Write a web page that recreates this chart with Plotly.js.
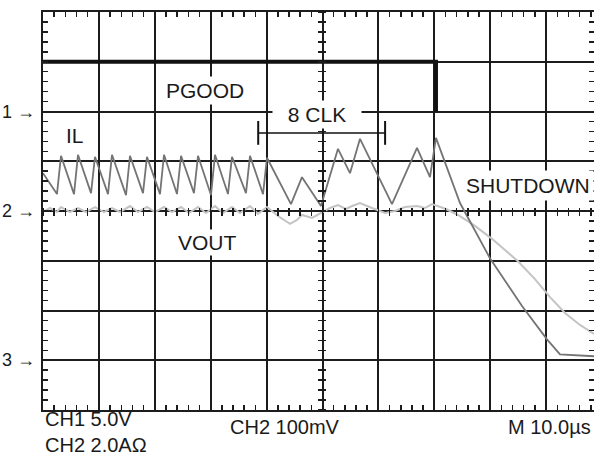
<!DOCTYPE html>
<html>
<head>
<meta charset="utf-8">
<script src="https://cdn.plot.ly/plotly-3.0.1.min.js"></script>
<style>html,body{margin:0;padding:0;background:#fff;}#chart{width:594px;height:457px;}</style>
</head>
<body>
<div id="chart"></div>
<script>
// time in microseconds (10 us/div), amplitude in divisions from screen centre
var ilTime = [0, 2.50, 3.22, 5.55, 6.26, 8.59, 9.30, 11.63, 12.34, 14.85, 15.56, 17.89, 18.60, 20.93, 21.65,
  23.97, 24.69, 27.01, 27.73, 30.05, 30.77, 33.09, 33.81, 36.31, 37.03, 39.36, 40.07,
  44.36, 46.33, 49.73, 52.77, 54.92, 56.71, 62.43, 66.91, 69.23, 70.30,
  74.60, 79.96, 85.69, 90.16, 92.49, 98.57];
var ilDiv = [0.76, 0.34, 1.11, 0.34, 1.13, 0.36, 1.09, 0.34, 1.13, 0.32, 1.11, 0.36, 1.09, 0.34, 1.13,
  0.34, 1.11, 0.36, 1.11, 0.32, 1.13, 0.34, 1.09, 0.36, 1.11, 0.34, 1.07,
  0.14, 0.68, 0.10, 1.25, 0.76, 1.45, 0.14, 1.27, 0.68, 1.47,
  0.16, -0.95, -1.91, -2.58, -2.88, -2.92];

var voutTime = [0, 1.25, 2.50, 3.22, 4.83, 6.26, 7.69, 9.30, 10.91, 12.34, 13.77, 15.56, 16.99, 18.60,
  20.04, 21.65, 23.08, 24.69, 26.12, 27.73, 29.16, 30.77, 32.20, 33.81, 35.24, 37.03, 38.46, 40.07,
  42.04, 44.19, 45.44, 46.33, 48.12, 49.73, 51.34, 52.77, 54.20, 55.28, 56.71, 58.86, 61.18, 62.97,
  64.76, 66.91, 68.34, 69.59, 72.09, 74.24, 77.28, 80.32, 84.97, 88.01, 90.70, 93.38, 96.06, 98.57];
var voutDiv = [-0.02, 0.06, -0.02, 0.08, -0.02, 0.06, -0.02, 0.08, -0.02, 0.06, -0.02, 0.10, -0.02, 0.08,
  -0.02, 0.08, -0.02, 0.08, -0.04, 0.08, -0.04, 0.10, -0.04, 0.08, -0.04, 0.10, -0.06, 0.08,
  -0.10, -0.26, -0.18, -0.08, -0.14, -0.04, 0.06, 0.12, 0.04, 0.10, 0.16, 0.06, -0.04, 0,
  0.08, 0.10, 0.06, 0.14, 0.04, -0.08, -0.30, -0.56, -1.01, -1.37, -1.73, -2.05, -2.29, -2.47];

var pgoodTime = [0, 70.3, 70.3];
var pgoodDiv = [3, 3, 2];

var clkTime = [38.5, 61.2];
var clkDiv = [1.57, 1.57];

var channelMarks = ['1 →', '2 →', '3 →'];
var channelLevels = [2, 0, -3];
var scaleLabels = ['CH1 5.0V', 'CH2 2.0AΩ'];
var footerLabels = ['CH2 100mV', 'M 10.0µs'];

var gridCol = '#1c1c1c';
var font = 'Liberation Sans, Arial, Helvetica, sans-serif';

// VOUT on the main axes, IL on the centre-crosshair x axis, PGOOD & bracket on the centre-crosshair y axis
var traces = [
  {x: voutTime, y: voutDiv, xaxis: 'x', yaxis: 'y', mode: 'lines', line: {color: '#c4c4c4', width: 2}, hoverinfo: 'skip'},
  {x: ilTime, y: ilDiv, xaxis: 'x2', yaxis: 'y', mode: 'lines', line: {color: '#747474', width: 1.8}, hoverinfo: 'skip'},
  {x: pgoodTime, y: pgoodDiv, xaxis: 'x', yaxis: 'y2', mode: 'lines', line: {color: '#111', width: 4}, hoverinfo: 'skip'},
  {x: clkTime, y: clkDiv, xaxis: 'x', yaxis: 'y2', mode: 'lines+markers', line: {color: '#111', width: 1.5},
   marker: {symbol: 'line-ns', size: 17, line: {color: '#111', width: 2}}, hoverinfo: 'skip'}
];

var xr = [0, 98.57];
var yr = [-4, 4];
var plotW = 551, plotH = 398;
var baseAx = {showticklabels: false, zeroline: false, tickcolor: gridCol, tickwidth: 1.5};

var layout = {
  width: 594, height: 457,
  margin: {l: 43, r: 0, t: 12, b: 47, pad: 0},
  paper_bgcolor: '#fff', plot_bgcolor: '#fff',
  showlegend: false,
  font: {family: font, color: '#1a1a1a'},
  xaxis: Object.assign({}, baseAx, {range: xr, dtick: 10, tick0: 0, showgrid: true, gridcolor: gridCol, gridwidth: 2,
    showline: true, linecolor: gridCol, linewidth: 2, mirror: 'ticks', ticks: 'inside', ticklen: 5,
    minor: {dtick: 2, ticks: 'inside', ticklen: 5, tickcolor: gridCol, tickwidth: 1.5, showgrid: false}}),
  yaxis: Object.assign({}, baseAx, {range: yr, dtick: 1, tick0: 0, showgrid: true, gridcolor: gridCol, gridwidth: 2,
    showline: true, linecolor: gridCol, linewidth: 2, mirror: 'ticks', ticks: 'inside', ticklen: 5,
    minor: {dtick: 0.2, ticks: 'inside', ticklen: 5, tickcolor: gridCol, tickwidth: 1.5, showgrid: false}}),
  // crosshair ticks along the horizontal centre line (8 px long, centred on the line)
  xaxis2: Object.assign({}, baseAx, {overlaying: 'x', anchor: 'free', side: 'bottom', position: 0.5 + 4 / plotH,
    range: xr, dtick: 10, tick0: 0, showgrid: false, showline: false, ticks: 'outside', ticklen: 8,
    minor: {dtick: 2, ticks: 'outside', ticklen: 8, tickcolor: gridCol, tickwidth: 1.5}}),
  // crosshair ticks along the vertical centre line
  yaxis2: Object.assign({}, baseAx, {overlaying: 'y', anchor: 'free', side: 'left', position: 50 / xr[1] + 4 / plotW,
    range: yr, dtick: 1, tick0: 0, showgrid: false, showline: false, ticks: 'outside', ticklen: 8,
    minor: {dtick: 0.2, ticks: 'outside', ticklen: 8, tickcolor: gridCol, tickwidth: 1.5}}),
  annotations: []
};

var lblFont = {family: font, size: 21, color: '#1a1a1a'};
var footFont = {family: font, size: 20, color: '#1a1a1a'};
layout.annotations.push(
  {x: 29.0, y: 2.43, xref: 'x', yref: 'y', text: 'PGOOD', showarrow: false, font: lblFont, bgcolor: '#fff', borderpad: 2},
  {x: 49.0, y: 1.93, xref: 'x', yref: 'y', text: '8 CLK', showarrow: false, font: lblFont, bgcolor: '#fff', width: 86, height: 25},
  {x: 5.7, y: 1.51, xref: 'x', yref: 'y', text: 'IL', showarrow: false, font: lblFont},
  {x: 29.5, y: -0.64, xref: 'x', yref: 'y', text: 'VOUT', showarrow: false, font: lblFont, bgcolor: '#fff', borderpad: 1},
  {x: 1, y: 0.52, xref: 'paper', yref: 'y', xanchor: 'right', text: 'SHUTDOWN', showarrow: false, font: lblFont, bgcolor: '#fff', borderpad: 3}
);
channelMarks.forEach(function (t, i) {
  layout.annotations.push({x: -0.011, y: channelLevels[i], xref: 'paper', yref: 'y', xanchor: 'right', yanchor: 'middle',
    text: t, showarrow: false, font: {family: font, size: 18, color: '#1a1a1a'}});
});
// two-line channel scale block at lower left
layout.annotations.push({x: 0.002, y: -0.118, xref: 'paper', yref: 'paper', xanchor: 'left', yanchor: 'bottom',
  align: 'left', text: scaleLabels.join('<br>'), showarrow: false, font: footFont, borderpad: 0});
var footX = [0.336, 0.84];
footerLabels.forEach(function (t, i) {
  layout.annotations.push({x: footX[i], y: -0.043, xref: 'paper', yref: 'paper', xanchor: 'left', yanchor: 'middle',
    text: t, showarrow: false, font: footFont});
});

Plotly.newPlot('chart', traces, layout, {staticPlot: true, displayModeBar: false});
</script>
</body>
</html>
